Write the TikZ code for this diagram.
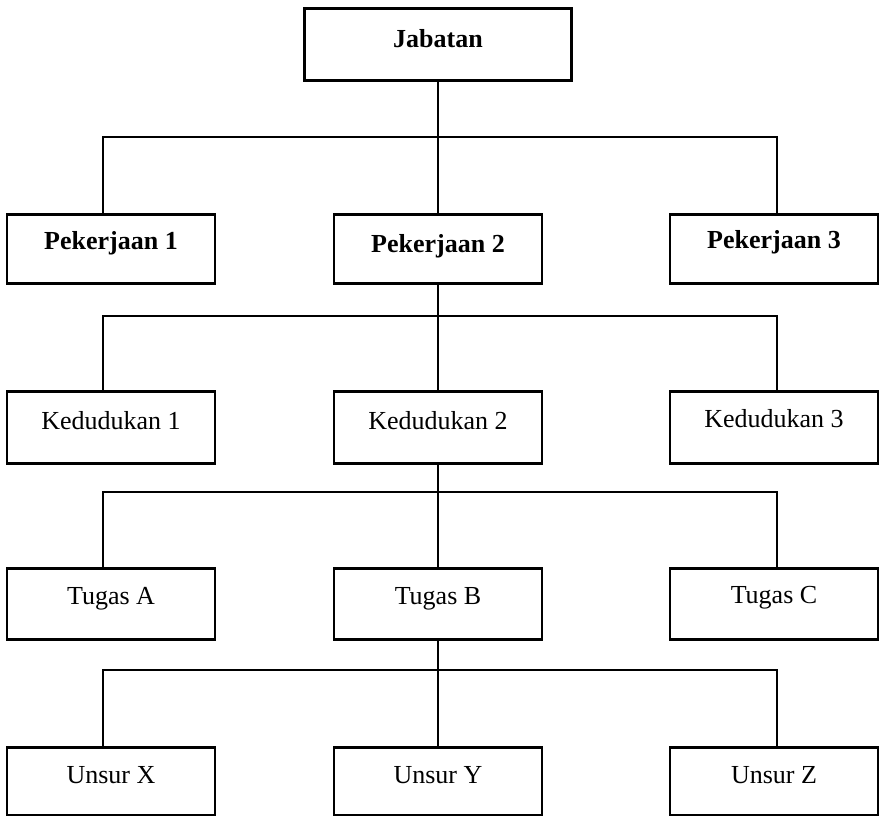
\documentclass[tikz,border=0pt]{standalone}
\usepackage{fontspec}
\setmainfont{Liberation Serif}
\usepackage{tikz}
\usetikzlibrary{positioning}

\tikzset{
  every unit/.style={draw, line width=2.6pt, inner sep=0pt, anchor=north,
    minimum width=208pt, text height=36pt, text depth=34pt,
    font=\fontsize{26}{30}\selectfont},
  head unit/.style={font=\fontsize{26}{30}\selectfont\bfseries},
  unit jabatan/.style={minimum width=267pt, text height=39pt, text depth=33pt},
  unit pekerjaan-1/.style={text height=35pt, text depth=34pt},
  unit pekerjaan-2/.style={text height=38pt, text depth=31pt},
  unit pekerjaan-3/.style={text height=34pt, text depth=35pt},
  unit kedudukan/.style={text height=38pt, text depth=34pt},
  unit kedudukan-3/.style={text height=36pt, text depth=36pt},
  unit tugas/.style={text height=36pt, text depth=35pt},
  unit tugas-3/.style={text height=35pt, text depth=36pt},
  unit unsur/.style={text height=36pt, text depth=32pt},
  link/.style={line width=2.6pt}
}

\begin{document}
\begin{tikzpicture}[x=1pt, y=-1pt]

\useasboundingbox (0,0) rectangle (879,816);

\node [every unit/.try, head unit, unit jabatan/.try] (jabatan) at (438,7) {Jabatan};

\foreach \l/\x [count=\i] in {Pekerjaan 1/111, Pekerjaan 2/438, Pekerjaan 3/774}
  \node [every unit/.try, head unit, unit pekerjaan-\i/.try] (pekerjaan-\i) at (\x,213) {\l};

\foreach \l/\x [count=\i] in {Kedudukan 1/111, Kedudukan 2/438, Kedudukan 3/774}
  \node [every unit/.try, unit kedudukan/.try, unit kedudukan-\i/.try] (kedudukan-\i) at (\x,390) {\l};

\foreach \l/\x [count=\i] in {Tugas A/111, Tugas B/438, Tugas C/774}
  \node [every unit/.try, unit tugas/.try, unit tugas-\i/.try] (tugas-\i) at (\x,567) {\l};

\foreach \l/\x [count=\i] in {Unsur X/111, Unsur Y/438, Unsur Z/774}
  \node [every unit/.try, unit unsur/.try] (unsur-\i) at (\x,746) {\l};

\foreach \p/\c/\y in {jabatan/pekerjaan/137, pekerjaan-2/kedudukan/316,
                      kedudukan-2/tugas/492, tugas-2/unsur/670} {
  \coordinate (\c-bus) at (438,\y);
  \draw [link] (\p.south) -- (\c-2.north);
  \draw [link] ([xshift=-8pt]\c-1.north) |- (\c-bus) -| ([xshift=3pt]\c-3.north);
}

\end{tikzpicture}
\end{document}
